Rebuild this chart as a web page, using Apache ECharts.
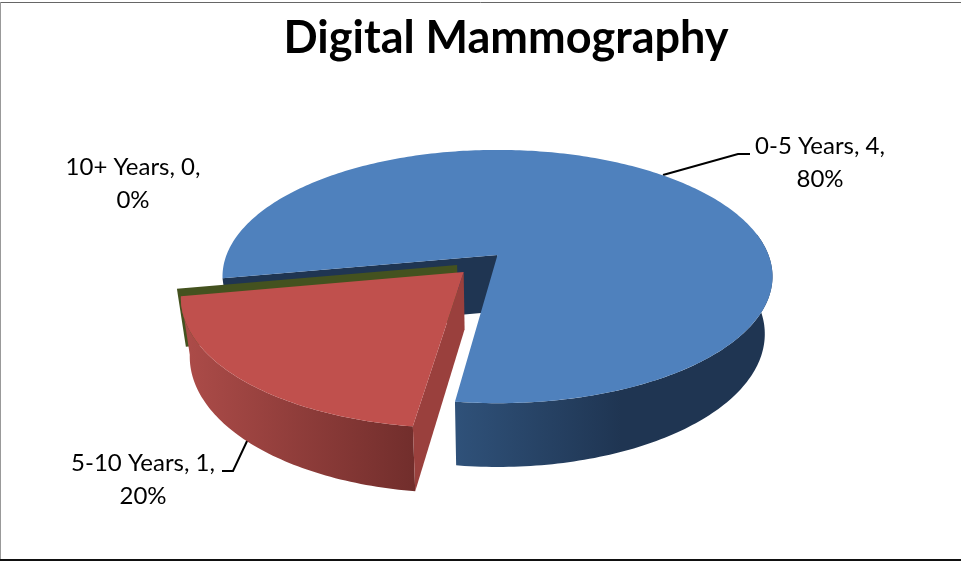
<!DOCTYPE html>
<html>
<head>
<meta charset="utf-8">
<title>Digital Mammography</title>
<script src="https://cdn.jsdelivr.net/npm/echarts@6/dist/echarts.min.js"></script>
<style>
  html, body { margin: 0; padding: 0; background: #fff; }
  #chart { width: 961px; height: 561px; }
</style>
</head>
<body>
<div id="chart"></div>
<script>
const categories = ['0-5 Years', '5-10 Years', '10+ Years']
const values = [4, 1, 0]

const FONT = 'Lato'
const total = values.reduce((a, b) => a + b, 0)

// pie seen through a perspective camera: unit circle -> screen
const CX = 497.5, CY = 255, RX = 271, RY = 123, K = 0.17
const DEPTH = 58, BOTTOM_SCALE = 0.972
const START_ANGLE = 259.5
// rim angle where the right side of the pie turns away from the camera
const SILHOUETTE = 80

const project = (u, v, lower) => {
  const w = 1 - K * v
  const s = lower ? BOTTOM_SCALE : 1
  return [CX + s * RX * u / w, CY + s * (RY * v + (lower ? DEPTH : 0)) / w]
}

const looks = [
  { top: '#4f81bd', cut: '#1f3552', wall: [[0, '#2f5179'], [0.9, '#1f3552'], [1, '#1f3552']], gradX: [457, 640], offset: [0, 0], z: 1 },
  { top: '#c0504d', cut: '#9a403d', wall: [[0, '#ab4b48'], [1, '#722e2c']], gradX: [190, 413], offset: [-0.122, 0.135], z: 3 },
  { top: '#44521f', cut: '#44521f', wall: [[0, '#44521f'], [1, '#44521f']], gradX: [178, 186], offset: [-0.147, 0.08], z: 2 }
]

// label text spots and their leader lines
const labelSpots = [
  { x: 820, y: 163, line: [[663, 175], [738, 154], [750, 154]] },
  { x: 143, y: 480, line: [[248, 439], [233, 471], [222, 471]] },
  { x: 133, y: 184, line: null }
]

function renderSlice(params, api) {
  const i = params.dataIndex
  const value = api.value(0)
  const look = looks[i]
  const before = values.slice(0, i).reduce((a, b) => a + b, 0)
  const from = START_ANGLE + before / total * 360
  const to = from + value / total * 360
  const [ou, ov] = look.offset

  const at = (deg, r, lower) => {
    const a = deg * Math.PI / 180
    return project(ou + r * Math.sin(a), ov - r * Math.cos(a), lower)
  }
  const rim = (start, lower) => {
    const pts = []
    for (let d = start; d < to; d += 1) pts.push(at(d, 1, lower))
    pts.push(at(to, 1, lower))
    return pts
  }
  const poly = (points, fill) => ({
    type: 'polygon', z2: look.z,
    shape: { points },
    style: { fill, stroke: null }
  })

  const children = []
  if (value > 0) {
    const wallFrom = to - from > 180 ? SILHOUETTE + 360 : from
    const wallFill = new echarts.graphic.LinearGradient(look.gradX[0], 0, look.gradX[1], 0, look.wall.map(s => ({ offset: s[0], color: s[1] })), true)
    children.push(poly(rim(wallFrom, false).concat(rim(wallFrom, true).reverse()), wallFill))
  }
  // only the cut face at the start angle looks toward the camera
  children.push(poly([at(from, 0, false), at(from, 1, false), at(from, 1, true), at(from, 0, true)], look.cut))
  if (value > 0) {
    children.push(poly([at(from, 0, false)].concat(rim(from, false)), look.top))
  }

  const spot = labelSpots[i]
  if (spot.line) {
    children.push({
      type: 'polyline', z2: 0,
      shape: { points: spot.line },
      style: { fill: null, stroke: '#000', lineWidth: 2 }
    })
  }
  children.push({
    type: 'text', z2: 5,
    style: {
      x: spot.x, y: spot.y,
      text: `${categories[i]}, ${value},\n${Math.round(value / total * 100)}%`,
      align: 'center', verticalAlign: 'middle',
      font: `24px ${FONT}`, lineHeight: 33, fill: '#000'
    }
  })
  return { type: 'group', children }
}

const chart = echarts.init(document.getElementById('chart'), null, { renderer: 'canvas' })
chart.setOption({
  animation: false,
  backgroundColor: '#fff',
  title: {
    text: 'Digital Mammography',
    left: 501, top: 11,
    textAlign: 'center',
    textStyle: { fontFamily: FONT, fontWeight: 'bold', fontSize: 45, color: '#000' }
  },
  graphic: [
    { type: 'line', shape: { x1: 0, y1: 2.5, x2: 961, y2: 2.5 }, style: { stroke: '#666', lineWidth: 1 } },
    { type: 'line', shape: { x1: 0.5, y1: 2, x2: 0.5, y2: 560 }, style: { stroke: '#999', lineWidth: 1 } },
    { type: 'line', shape: { x1: 0, y1: 560, x2: 961, y2: 560 }, style: { stroke: '#111', lineWidth: 2 } }
  ],
  series: [{
    type: 'custom',
    coordinateSystem: 'none',
    renderItem: renderSlice,
    data: values.map((v, i) => ({ name: categories[i], value: [v] }))
  }]
})
</script>
</body>
</html>
